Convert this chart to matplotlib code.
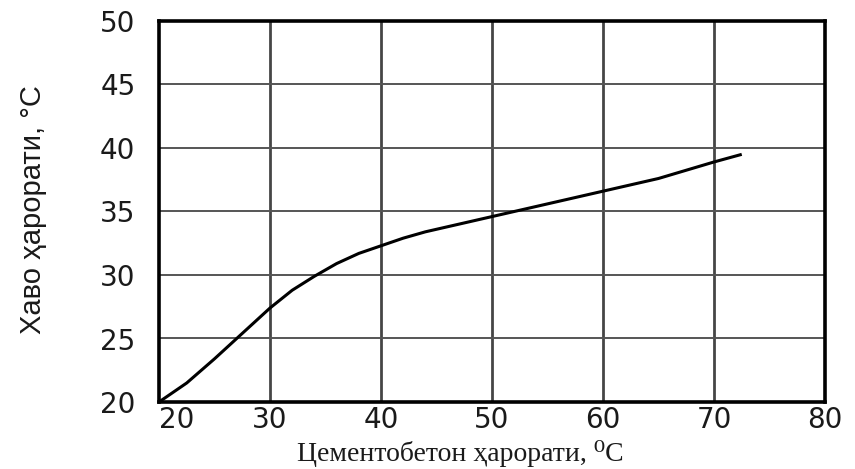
import matplotlib
matplotlib.use("Agg")
import matplotlib.pyplot as plt

# Data
concrete_temp = [20, 22.5, 25, 27.5, 30, 32, 34, 36, 38, 40, 42, 44, 46.5, 50, 55, 60, 65, 70, 72.5]
air_temp = [20, 21.5, 23.4, 25.4, 27.4, 28.8, 29.9, 30.9, 31.7, 32.3, 32.9, 33.4, 33.9, 34.6, 35.6, 36.6, 37.6, 38.9, 39.5]
x_ticks = [20, 30, 40, 50, 60, 70, 80]
y_ticks = [20, 25, 30, 35, 40, 45, 50]
x_label = "Цементобетон ҳарорати, ⁰C"
y_label = "Хаво ҳарорати, °C"

fig = plt.figure(figsize=(8.55, 4.69), dpi=100)
ax = fig.add_axes([159/855, 1-402/469, (825-159)/855, (402-21)/469])

ax.set_xlim(20, 80)
ax.set_ylim(20, 50)
ax.set_xticks(x_ticks)
ax.set_yticks(y_ticks)

# grid lines
for xv in x_ticks[1:-1]:
    ax.axvline(xv, color="#464646", lw=2.0, zorder=1)
for yv in y_ticks[1:-1]:
    ax.axhline(yv, color="#555555", lw=1.4, zorder=1)

ax.plot(concrete_temp, air_temp, color="black", lw=2.2, zorder=3,
        solid_capstyle="butt", solid_joinstyle="round")

for s in ax.spines.values():
    s.set_linewidth(2.6)
    s.set_color("black")
    s.set_zorder(4)

ax.tick_params(axis="both", length=0)
ax.tick_params(axis="y", pad=17)
ax.tick_params(axis="x", pad=3)
for lab in ax.get_xticklabels() + ax.get_yticklabels():
    lab.set_fontfamily(["DejaVu Sans"])
    lab.set_fontsize(20)
    lab.set_color("#1a1a1a")
xl = ax.get_xticklabels()
xl[0].set_horizontalalignment("left")

fig.text(460/855, 8/469, x_label, ha="center", va="baseline",
         family=["Liberation Serif", "DejaVu Serif"], fontsize=20, color="#1a1a1a")
fig.text(33/855, 1-210/469, y_label, ha="center", va="center", rotation=90,
         family=["Liberation Sans", "DejaVu Sans"], fontsize=21, color="#1a1a1a")

fig.savefig("out.png", dpi=100)
